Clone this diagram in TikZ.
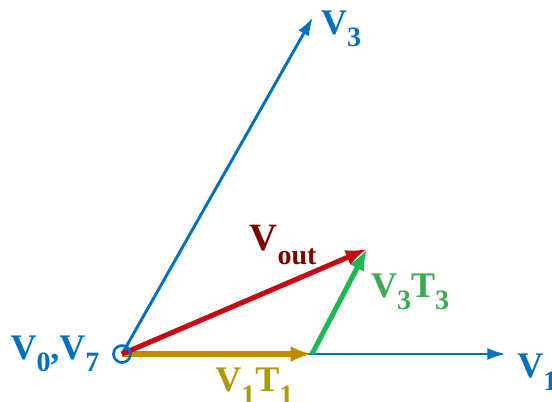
\documentclass[tikz,border=0pt]{standalone}
\usepackage{fontspec}
\setmainfont{Liberation Serif}
\usepackage{xcolor}
\usetikzlibrary{arrows.meta}

\definecolor{vblue}{RGB}{0,112,192}
\definecolor{vred}{RGB}{200,10,20}
\definecolor{vdred}{RGB}{128,0,0}
\definecolor{vgold}{RGB}{191,140,0}
\definecolor{vgoldtxt}{RGB}{175,155,10}
\definecolor{vgreen}{RGB}{30,185,80}
\definecolor{vgreentxt}{RGB}{60,170,80}

\newcommand{\vsub}[1]{\raisebox{-0.75ex}{\fontsize{21}{21}\selectfont #1}}

\tikzset{
  vlab/.style={font=\fontsize{27}{30}\selectfont\bfseries, inner sep=0pt},
  basevec/.style={-{Latex[length=14pt,width=9pt]}, line width=2.2pt, vblue},
  partvec/.style={-{Latex[length=16pt,width=12pt]}, line width=3.8pt}
}

\begin{document}
\begin{tikzpicture}[x=0.75pt,y=-0.75pt]
  \useasboundingbox (0,0) rectangle (552,401);

  \coordinate (O)   at (122,354);
  \coordinate (V1)  at (506,354);
  \coordinate (V3)  at (313,17);
  \coordinate (T1)  at (312,354);
  \coordinate (out) at (367,249);

  \draw[basevec] (O) -- (V1);
  \draw[basevec] (O) -- (V3);

  \draw[partvec,vgold]  (O) -- (T1);
  \draw[partvec,vgreen] (T1) -- (out);
  \draw[partvec,vred]   (O) -- (out);

  \draw[vblue,line width=2pt] (O) circle[radius=8.5];

  \node[vlab,vblue]      (l07)  at (55,354)  {V\vsub{0},V\vsub{7}};
  \node[vlab,vblue]      (l3)   at (341,29)  {V\vsub{3}};
  \node[vlab,vblue,anchor=north west] (l1) at (517,354) {V\vsub{1}};
  \node[vlab,vdred,font=\fontsize{29}{32}\selectfont\bfseries] (lout) at (283,245) {V\vsub{out}};
  \node[vlab,vgreentxt]  (lt3)  at (410,292) {V\vsub{3}T\vsub{3}};
  \node[vlab,vgoldtxt,anchor=north west] (lt1) at (215,368) {V\vsub{1}T\vsub{1}};
\end{tikzpicture}
\end{document}
